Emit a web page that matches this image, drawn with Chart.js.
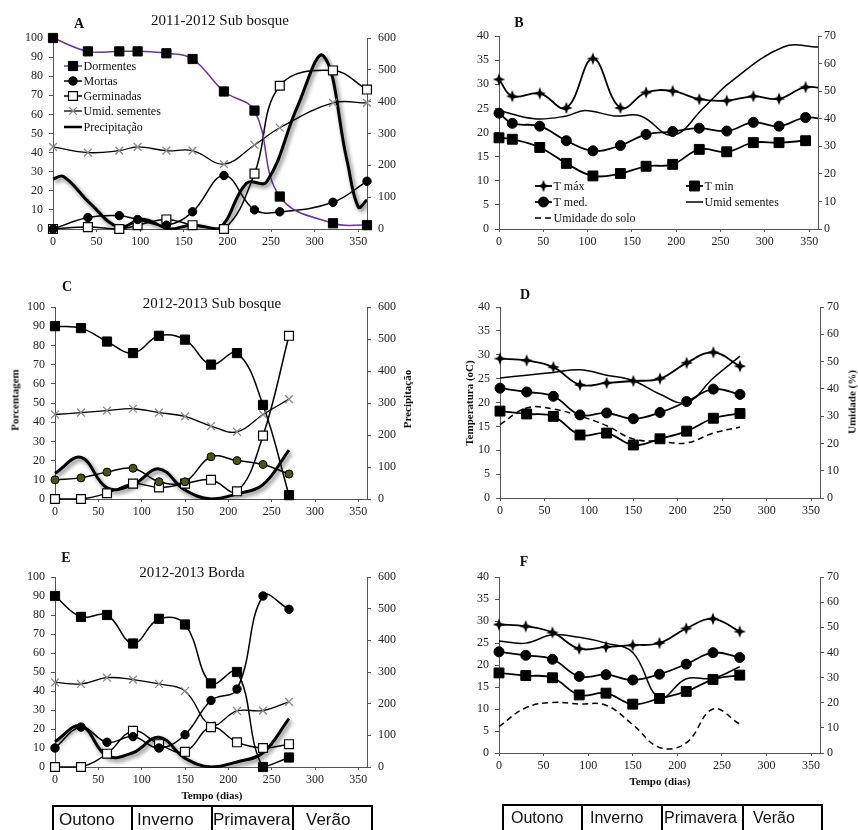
<!DOCTYPE html>
<html>
<head>
<meta charset="utf-8">
<script src="https://cdn.jsdelivr.net/npm/chart.js@4.4.1/dist/chart.umd.min.js"></script>
<style>
  html, body { margin: 0; padding: 0; background: #fff; }
  body { width: 858px; height: 830px; position: relative; overflow: hidden;
         font-family: 'Liberation Serif', 'Times New Roman', serif; color: #111; }
  canvas { position: absolute; }
  .t { position: absolute; white-space: nowrap; line-height: 1; transform: translate(-50%, -50%); }
  .title { font-size: 15px; }
  .letter { font-size: 14px; font-weight: bold; }
  .axt { font-size: 11px; font-weight: bold; transform: translate(-50%, -50%) rotate(-90deg); }
  .xt { font-size: 11px; font-weight: bold; }
  .line { position: absolute; background: #000; }
  .season { position: absolute; font-family: 'Liberation Sans', Arial, sans-serif; white-space: nowrap;
            line-height: 1; transform: translateY(-50%); }
</style>
</head>
<body>
<script>
// ---- 2011-2012, sub-bosque: seed bank follow-up (days) ----
const diasA = [0, 40, 76, 97, 130, 160, 196, 231, 260, 321, 360];
const dormentesA = [100, 93, 93, 93, 92, 89, 72, 62, 17, 3, 2];
const mortasA = [0, 6, 7, 5, 2, 9, 28, 10, 9, 14, 25];
const germinadasA = [0, 1, 0, 2, 5, 2, 0, 29, 75, 83, 73];
const umidSementesA = [43, 40, 41, 43, 41, 41, 34, 44, 53, 66, 66];
const diasChuvaA = [0, 12, 42, 76, 103, 134, 160, 190, 222, 245, 280, 310, 337, 350, 360];
const chuvaA = [157, 165, 82, 5, 31, 0, 12, 0, 144, 148, 383, 544, 216, 69, 91];

// ---- 2011-2012 temperatures (°C) ----
const diasB = [0, 15, 46, 76, 106, 137, 166, 196, 226, 257, 287, 316, 346, 375];
const tMaxB = [31, 27.5, 28.1, 25.1, 35.3, 25.1, 28.3, 28.6, 26.9, 26.6, 27.5, 27, 29.4, 28.8];
const tMedB = [24, 21.9, 21.3, 18.3, 16.2, 17.3, 19.6, 20.2, 20.9, 20.3, 22.1, 21.3, 23.1, 22.4];
const tMinB = [18.9, 18.6, 16.9, 13.6, 11, 11.5, 13, 13.4, 16.5, 16, 17.9, 17.9, 18.3];

// ---- 2012-2013 (monthly) ----
const dias1213 = [0, 30, 60, 90, 120, 150, 180, 210, 240, 270];
const chuva1213 = [80, 130, 35, 45, 94, 28, 0, 16, 45, 153];

// sub-bosque
const dormentesC = [90, 89, 82, 76, 85, 83, 70, 76, 49, 2];
const mortasC = [10, 11, 14, 16, 9, 9, 22, 20, 18, 13];
const germinadasC = [0, 0, 3, 8, 6, 8, 10, 4, 33, 85];
const umidSementesC = [44, 45, 46, 47, 45, 43, 38, 35, 44, 52];

// borda
const dormentesE = [90, 79, 80, 65, 78, 75, 44, 50, 0, 5];
const mortasE = [10, 21, 13, 16, 10, 17, 35, 41, 90, 83];
const germinadasE = [0, 0, 7, 19, 12, 8, 21, 13, 10, 12];
const umidSementesE = [44.5, 43.7, 47, 46, 43.7, 40, 22, 29.5, 29.7, 34.3];

// temperatures 2012-2013 (°C) and soil moisture (%)
const tMax1213 = [29.2, 28.8, 27.4, 23.7, 24.1, 24.5, 25, 28.3, 30.5, 27.6];
const tMed1213 = [23, 22.2, 21.3, 17.4, 17.8, 16.6, 17.9, 20.2, 22.8, 21.7];
const tMin1213 = [18.2, 17.6, 17.1, 13.2, 13.6, 11.1, 12.4, 14, 16.7, 17.7];
const umidSoloD = [26.9, 33, 32.6, 30, 26.5, 21.6, 20.8, 20.2, 23.8, 26];
const umidSoloF = [10.5, 18, 20.1, 19.5, 19, 11.3, 2.2, 4, 17.5, 11.5];

// axis ticks
const diasTicks = { min: 0, max: 360, step: 50 };
const pctTicks = { min: 0, max: 100, step: 10 };
const chuvaTicks = { min: 0, max: 600, step: 100 };
const tempTicks = { min: 0, max: 40, step: 5 };
const umidTicks = { min: 0, max: 70, step: 10 };

const SERIF = "'Liberation Serif', 'Times New Roman', serif";
Chart.defaults.font.family = SERIF;
Chart.defaults.font.size = 12;
Chart.defaults.color = '#222';

// four-pointed star used for T máx
function starCanvas() {
  const c = document.createElement('canvas');
  c.width = 14; c.height = 14;
  const g = c.getContext('2d');
  g.translate(7, 7);
  g.beginPath();
  for (let i = 0; i < 8; i++) {
    const a = i * Math.PI / 4 - Math.PI / 2;
    const rad = i % 2 ? 2.4 : 6.2;
    g.lineTo(Math.cos(a) * rad, Math.sin(a) * rad);
  }
  g.closePath();
  g.fillStyle = '#000';
  g.fill();
  return c;
}
const STAR = starCanvas();

// series styles
const ST = {
  dormRoxo:  { line: '#7030a0', w: 1.5, marker: 'rect', r: 6.5, fill: '#000', stroke: '#000' },
  dorm:      { line: '#000', w: 1.5, marker: 'rect', r: 6.5, fill: '#000', stroke: '#000' },
  mortas:    { line: '#000', w: 1.5, marker: 'circle', r: 4.2, fill: '#000', stroke: '#000' },
  mortasV:   { line: '#000', w: 1.5, marker: 'circle', r: 4, fill: '#4a5618', stroke: '#000' },
  germ:      { line: '#000', w: 1.5, marker: 'rect', r: 6.3, fill: '#fff', stroke: '#000', bw: 1.2 },
  umidSem:   { line: '#000', w: 1.3, marker: 'crossRot', r: 5.5, fill: '#fff', stroke: '#8a8a8a', bw: 1.3 },
  chuva:     { line: '#000', w: 3, shadow: true, axis: 'y1', keyW: 2.5 },
  tMax:      { line: '#000', w: 1.8, marker: STAR, r: 6, fill: '#000', stroke: '#000' },
  tMin:      { line: '#000', w: 1.8, marker: 'rect', r: 7, fill: '#000', stroke: '#000' },
  tMed:      { line: '#000', w: 1.8, marker: 'circle', r: 5, fill: '#000', stroke: '#000' },
  umidLinha: { line: '#000', w: 1.5, axis: 'y1' },
  solo:      { line: '#000', w: 1.5, dash: [6, 4], axis: 'y1' }
};

function S(label, xs, ys, st) { return { label, xs, ys, st }; }

// soft drop shadow under the rainfall line
const shadowPlugin = {
  id: 'lineShadow',
  beforeDatasetDraw(chart, args) {
    const ds = chart.data.datasets[args.index];
    if (ds.shadow) {
      const c = chart.ctx;
      c.save();
      c.shadowColor = 'rgba(0,0,0,0.55)';
      c.shadowBlur = 4;
      c.shadowOffsetX = 2;
      c.shadowOffsetY = 2.5;
    }
  },
  afterDatasetDraw(chart, args) {
    if (chart.data.datasets[args.index].shadow) chart.ctx.restore();
  }
};

function drawMarker(ctx, st, x, y) {
  ctx.save();
  ctx.fillStyle = st.fill;
  ctx.strokeStyle = st.stroke;
  ctx.lineWidth = st.bw || 1;
  if (typeof st.marker !== 'string') {
    ctx.drawImage(st.marker, x - st.marker.width / 2, y - st.marker.height / 2);
  } else if (Chart.helpers && Chart.helpers.drawPoint) {
    Chart.helpers.drawPoint(ctx, { pointStyle: st.marker, radius: st.r, rotation: 0, borderWidth: st.bw || 1 }, x, y);
  } else {
    ctx.beginPath();
    if (st.marker === 'circle') ctx.arc(x, y, st.r, 0, Math.PI * 2);
    else { const h = st.r * Math.SQRT1_2; ctx.rect(x - h, y - h, 2 * h, 2 * h); }
    ctx.fill(); ctx.stroke();
  }
  ctx.restore();
}

// in-plot key: short line sample with its marker, then the label
function keyPlugin(items) {
  return {
    id: 'seriesKey',
    afterDatasetsDraw(chart) {
      const ctx = chart.ctx;
      items.forEach(it => {
        const st = it.s.st;
        ctx.save();
        ctx.beginPath();
        ctx.setLineDash(st.dash || []);
        ctx.lineWidth = st.keyW || st.w;
        ctx.strokeStyle = st.line;
        ctx.moveTo(it.x, it.y);
        ctx.lineTo(it.x + it.len, it.y);
        ctx.stroke();
        ctx.setLineDash([]);
        ctx.restore();
        if (st.marker) drawMarker(ctx, st, it.x + it.len / 2, it.y);
        ctx.save();
        ctx.fillStyle = '#111';
        ctx.font = '12px ' + SERIF;
        ctx.textBaseline = 'middle';
        ctx.textAlign = 'left';
        ctx.fillText(it.s.label, it.x + it.len + 1.5, it.y + 0.5);
        ctx.restore();
      });
    }
  };
}

function buildDatasets(list, xmax) {
  const out = [];
  list.forEach(s => {
    const st = s.st;
    const data = s.ys.map((v, i) => ({ x: s.xs[i], y: v }));
    if (!data.length) return;
    out.push({
      label: s.label, data, yAxisID: st.axis || 'y',
      borderColor: st.line, borderWidth: st.w, borderDash: st.dash || [],
      pointRadius: 0, pointHoverRadius: 0, tension: 0.4, fill: false,
      clip: { left: 2, top: 2, right: 0, bottom: 1 },
      order: st.shadow ? 1 : 2, shadow: !!st.shadow
    });
    if (st.marker) {
      out.push({
        label: s.label, data: data.filter(p => p.x <= xmax), yAxisID: st.axis || 'y',
        showLine: false, pointStyle: st.marker, pointRadius: st.r, pointHoverRadius: st.r,
        pointBackgroundColor: st.fill, pointBorderColor: st.stroke, pointBorderWidth: st.bw || 1,
        clip: false, order: 0
      });
    }
  });
  return out;
}

function yScale(pos, t, width, pad) {
  return {
    type: 'linear', position: pos, min: t.min, max: t.max,
    afterFit: sc => { sc.width = width; },
    ticks: { stepSize: t.step, padding: pad, color: '#222', font: { size: 12 } },
    grid: { drawOnChartArea: false, drawTicks: true, tickLength: 4, color: '#555' },
    border: { display: true, color: '#555', width: 1 }
  };
}

function panel(box, area, cfg) {
  const cv = document.createElement('canvas');
  cv.width = box.w; cv.height = box.h;
  cv.style.left = box.x + 'px'; cv.style.top = box.y + 'px';
  cv.style.width = box.w + 'px'; cv.style.height = box.h + 'px';
  document.body.appendChild(cv);
  const leftW = area.l - box.x, rightW = box.x + box.w - area.r;
  const bottomH = box.y + box.h - area.b, topPad = area.t - box.y;
  const keyItems = (cfg.key || []).map(k => ({ s: k.s, x: k.x - box.x, y: k.y - box.y, len: k.len }));
  new Chart(cv, {
    type: 'line',
    data: { datasets: buildDatasets(cfg.series, diasTicks.max) },
    options: {
      responsive: false, animation: false, devicePixelRatio: 1,
      events: [],
      layout: { padding: { top: topPad, left: 0, right: 0, bottom: 0 } },
      plugins: { legend: { display: false }, tooltip: { enabled: false } },
      scales: {
        x: {
          type: 'linear', min: diasTicks.min, max: diasTicks.max,
          afterFit: sc => { sc.height = bottomH; },
          ticks: { stepSize: diasTicks.step, includeBounds: false, padding: 3, maxRotation: 0, autoSkip: false, color: '#222' },
          grid: { drawOnChartArea: false, drawTicks: true, tickLength: 3, color: '#555' },
          border: { display: true, color: '#555', width: 1 }
        },
        y: yScale('left', cfg.left, leftW, cfg.lpad || 5),
        y1: yScale('right', cfg.right, rightW, cfg.rpad || 5)
      }
    },
    plugins: [shadowPlugin, keyPlugin(keyItems)]
  });
}

// ---------- A ----------
const sA = {
  dorm: S('Dormentes', diasA, dormentesA, ST.dormRoxo),
  mort: S('Mortas', diasA, mortasA, ST.mortas),
  germ: S('Germinadas', diasA, germinadasA, ST.germ),
  umid: S('Umid. sementes', diasA, umidSementesA, ST.umidSem),
  chuva: S('Precipitação', diasChuvaA, chuvaA, ST.chuva)
};
panel({ x: 0, y: 0, w: 430, h: 255 }, { l: 53, r: 367, t: 38, b: 229 }, {
  series: [sA.chuva, sA.dorm, sA.mort, sA.germ, sA.umid],
  left: pctTicks, right: chuvaTicks, lpad: 6, rpad: 7,
  key: [
    { s: sA.dorm, x: 64, y: 66, len: 18 },
    { s: sA.mort, x: 64, y: 81, len: 18 },
    { s: sA.germ, x: 64, y: 96, len: 18 },
    { s: sA.umid, x: 64, y: 111, len: 18 },
    { s: sA.chuva, x: 64, y: 127, len: 18 }
  ]
});

// ---------- B ----------
const sB = {
  tMax: S('T máx', diasB, tMaxB, ST.tMax),
  tMin: S('T min', diasB, tMinB, ST.tMin),
  tMed: S('T med.', diasB, tMedB, ST.tMed),
  umid: S('Umid sementes', diasA, umidSementesA, ST.umidLinha),
  solo: S('Umidade do solo', [], [], ST.solo)
};
panel({ x: 430, y: 0, w: 428, h: 255 }, { l: 499, r: 818, t: 36, b: 229 }, {
  series: [sB.tMax, sB.tMin, sB.tMed, sB.umid, sB.solo],
  left: tempTicks, right: umidTicks, lpad: 6, rpad: 2,
  key: [
    { s: sB.tMax, x: 535, y: 186, len: 17 },
    { s: sB.tMin, x: 686, y: 186, len: 17 },
    { s: sB.tMed, x: 535, y: 202, len: 17 },
    { s: sB.umid, x: 686, y: 202, len: 17 },
    { s: sB.solo, x: 535, y: 218, len: 17 }
  ]
});

// ---------- C ----------
panel({ x: 0, y: 265, w: 430, h: 262 }, { l: 55, r: 367, t: 307, b: 499 }, {
  series: [
    S('Precipitação', dias1213, chuva1213, ST.chuva),
    S('Dormentes', dias1213, dormentesC, ST.dorm),
    S('Mortas', dias1213, mortasC, ST.mortasV),
    S('Germinadas', dias1213, germinadasC, ST.germ),
    S('Umid. sementes', dias1213, umidSementesC, ST.umidSem)
  ],
  left: pctTicks, right: chuvaTicks, lpad: 6, rpad: 7
});

// ---------- D ----------
panel({ x: 430, y: 265, w: 428, h: 262 }, { l: 500, r: 820, t: 307, b: 498 }, {
  series: [
    S('T máx', dias1213, tMax1213, ST.tMax),
    S('T min', dias1213, tMin1213, ST.tMin),
    S('T med.', dias1213, tMed1213, ST.tMed),
    S('Umid sementes', dias1213, umidSementesC, ST.umidLinha),
    S('Umidade do solo', dias1213, umidSoloD, ST.solo)
  ],
  left: tempTicks, right: umidTicks, lpad: 6, rpad: 3
});

// ---------- E ----------
panel({ x: 0, y: 535, w: 430, h: 255 }, { l: 55, r: 367, t: 577, b: 767 }, {
  series: [
    S('Precipitação', dias1213, chuva1213, ST.chuva),
    S('Dormentes', dias1213, dormentesE, ST.dorm),
    S('Mortas', dias1213, mortasE, ST.mortas),
    S('Germinadas', dias1213, germinadasE, ST.germ),
    S('Umid. sementes', dias1213, umidSementesE, ST.umidSem)
  ],
  left: pctTicks, right: chuvaTicks, lpad: 6, rpad: 7
});

// ---------- F ----------
panel({ x: 430, y: 535, w: 428, h: 240 }, { l: 499, r: 820, t: 577, b: 753 }, {
  series: [
    S('T máx', dias1213, tMax1213, ST.tMax),
    S('T min', dias1213, tMin1213, ST.tMin),
    S('T med.', dias1213, tMed1213, ST.tMed),
    S('Umid sementes', dias1213, umidSementesE, ST.umidLinha),
    S('Umidade do solo', dias1213, umidSoloF, ST.solo)
  ],
  left: tempTicks, right: umidTicks, lpad: 6, rpad: 3
});

// ---------- text labels ----------
function label(text, cls, x, y, extra) {
  const d = document.createElement('div');
  d.className = 't ' + cls;
  d.textContent = text;
  d.style.left = x + 'px';
  d.style.top = y + 'px';
  if (extra) Object.assign(d.style, extra);
  document.body.appendChild(d);
}
label('2011-2012 Sub bosque', 'title', 220, 20);
label('A', 'letter', 79, 24);
label('B', 'letter', 519, 23);
label('C', 'letter', 67, 287);
label('2012-2013 Sub bosque', 'title', 212, 303);
label('D', 'letter', 525, 295);
label('E', 'letter', 66, 558);
label('2012-2013 Borda', 'title', 192, 572);
label('F', 'letter', 524, 562);
label('Porcentagem', 'axt', 15, 400);
label('Precipitação', 'axt', 407, 399);
label('Temperatura (oC)', 'axt', 469, 403);
label('Umidade (%)', 'axt', 852, 402);
label('Tempo (dias)', 'xt', 212, 795);
label('Tempo (dias)', 'xt', 660, 781);

// ---------- season strips ----------
const estacoes = ['Outono', 'Inverno', 'Primavera', 'Verão'];
function seasonStrip(left, right, top, dividers, textX, size) {
  const lw = 2;
  const add = (x, y, w, h) => {
    const d = document.createElement('div');
    d.className = 'line';
    Object.assign(d.style, { left: x + 'px', top: y + 'px', width: w + 'px', height: h + 'px' });
    document.body.appendChild(d);
  };
  add(left - lw / 2, top - lw / 2, right - left + lw, lw);
  [left].concat(dividers, [right]).forEach(x => add(x - lw / 2, top - lw / 2, lw, 60));
  estacoes.forEach((s, i) => {
    const d = document.createElement('div');
    d.className = 'season';
    d.textContent = s;
    Object.assign(d.style, { left: textX[i] + 'px', top: (top + 13) + 'px', fontSize: size + 'px' });
    document.body.appendChild(d);
  });
}
seasonStrip(53, 372, 806, [132, 212, 293], [59, 137, 213, 306], 17);
seasonStrip(503, 822, 805, [582, 662, 743], [511, 590, 664, 753], 16);
</script>
</body>
</html>
